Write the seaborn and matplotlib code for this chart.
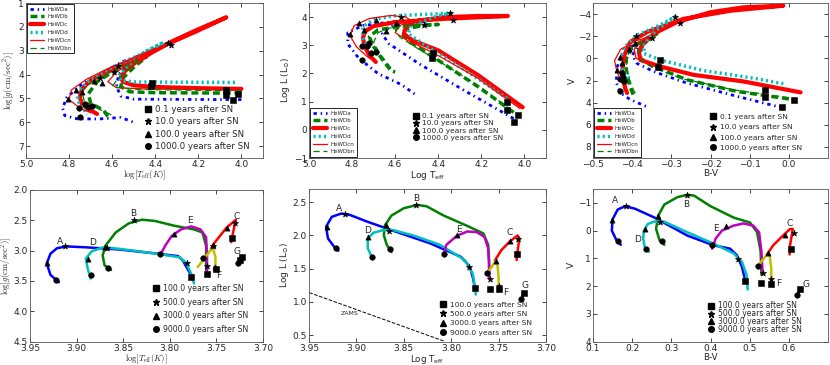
import pandas as pd
import seaborn as sns
import matplotlib.pyplot as plt
from matplotlib.lines import Line2D

sns.set_style("ticks", {"xtick.direction": "in", "ytick.direction": "in"})
plt.rcParams['font.family'] = ['DejaVu Sans']
plt.rcParams['xtick.top'] = True
plt.rcParams['ytick.right'] = True
plt.rcParams['xtick.labelsize'] = 6.5
plt.rcParams['ytick.labelsize'] = 6.5
plt.rcParams['xtick.major.size'] = 3
plt.rcParams['ytick.major.size'] = 3
plt.rcParams['axes.linewidth'] = 0.6

# ---------------- data: top row (HeWD models) ----------------
model_names = ['HeWDa', 'HeWDb', 'HeWDc', 'HeWDd', 'HeWDcn', 'HeWDbn']
top_years = ['0.1 years after SN', '10.0 years after SN',
             '100.0 years after SN', '1000.0 years after SN']

# log Teff vs log g
g_a = [(4.00, 5.05), (4.30, 5.04), (4.50, 5.03), (4.56, 4.90), (4.58, 4.50), (4.57, 4.00),
       (4.52, 3.55), (4.47, 3.20), (4.55, 3.45), (4.65, 3.95), (4.74, 4.40), (4.81, 4.95),
       (4.83, 5.40), (4.82, 5.72), (4.76, 5.86), (4.66, 5.86), (4.56, 5.80), (4.50, 6.00)]
g_b = [(4.00, 4.78), (4.20, 4.77), (4.40, 4.76), (4.52, 4.72), (4.56, 4.50), (4.55, 4.15),
       (4.50, 3.70), (4.44, 3.25), (4.50, 3.50), (4.60, 3.90), (4.67, 4.30), (4.71, 4.80),
       (4.70, 5.20), (4.64, 5.50), (4.62, 5.75)]
g_c = [(4.00, 4.60), (4.20, 4.57), (4.40, 4.52), (4.50, 4.45), (4.55, 4.30), (4.56, 4.10),
       (4.54, 3.85), (4.50, 3.55), (4.42, 3.10), (4.32, 2.60), (4.20, 2.10), (4.07, 1.60),
       (4.20, 2.15), (4.35, 2.75), (4.50, 3.35), (4.62, 3.85), (4.70, 4.25), (4.74, 4.60),
       (4.75, 4.95), (4.74, 5.25), (4.70, 5.50), (4.67, 5.65)]
g_d = [(4.03, 4.33), (4.30, 4.32), (4.50, 4.31), (4.56, 4.25), (4.57, 4.05), (4.53, 3.65),
       (4.45, 3.05), (4.36, 2.65), (4.48, 3.20), (4.60, 3.70), (4.70, 4.20), (4.76, 4.70),
       (4.76, 5.10), (4.73, 5.45), (4.72, 5.70)]
g_cn = [(4.00, 4.63), (4.20, 4.62), (4.45, 4.60), (4.58, 4.55), (4.62, 4.30), (4.58, 3.90),
        (4.50, 3.40), (4.40, 2.90), (4.50, 3.30), (4.62, 3.75), (4.72, 4.20), (4.79, 4.65),
        (4.80, 5.05), (4.75, 5.40), (4.70, 5.60)]
g_bn = [(4.00, 4.68), (4.20, 4.66), (4.50, 4.62), (4.60, 4.50), (4.58, 4.25), (4.53, 3.80),
        (4.47, 3.35), (4.58, 3.80), (4.68, 4.20), (4.74, 4.70), (4.73, 5.10), (4.66, 5.45),
        (4.60, 5.70)]
g_sq = [(4.415, 4.35), (4.42, 4.49), (4.07, 4.66), (4.07, 4.85), (4.016, 4.83), (4.04, 5.06)]
g_st = [(4.34, 2.66), (4.325, 2.76), (4.575, 3.63), (4.59, 3.89), (4.655, 4.15)]
g_tr = [(4.767, 4.63), (4.807, 5.03), (4.74, 4.72), (4.686, 4.28), (4.648, 4.34)]
g_ci = [(4.756, 5.39), (4.75, 5.76), (4.725, 5.25), (4.714, 5.34), (4.694, 5.30)]

# log Teff vs log L
l_a = [(4.05, 0.40), (4.28, 1.40), (4.49, 2.35), (4.63, 3.06), (4.66, 3.40), (4.63, 3.65),
       (4.55, 3.78), (4.45, 3.85), (4.60, 3.85), (4.75, 3.70), (4.82, 3.45), (4.82, 3.05),
       (4.77, 2.55), (4.68, 2.00), (4.57, 1.60), (4.50, 1.22)]
l_b = [(4.05, 0.62), (4.215, 1.53), (4.40, 2.47), (4.52, 3.06), (4.57, 3.41), (4.55, 3.59),
       (4.46, 3.71), (4.40, 3.74), (4.55, 3.70), (4.68, 3.55), (4.72, 3.30), (4.70, 2.95),
       (4.66, 2.50), (4.62, 2.10), (4.60, 2.05)]
l_c = [(4.008, 0.80), (4.215, 1.94), (4.40, 2.82), (4.52, 3.18), (4.56, 3.41), (4.55, 3.65),
       (4.49, 3.88), (4.37, 4.00), (4.215, 4.04), (4.077, 4.04), (4.37, 3.94), (4.60, 3.82),
       (4.70, 3.68), (4.74, 3.50), (4.75, 3.25), (4.74, 2.94), (4.72, 2.65), (4.69, 2.41)]
l_d = [(4.08, 1.12), (4.276, 2.12), (4.46, 3.00), (4.54, 3.41), (4.53, 3.65), (4.47, 3.85),
       (4.40, 4.05), (4.34, 4.14), (4.45, 4.10), (4.60, 4.05), (4.70, 3.92), (4.75, 3.65),
       (4.75, 3.25), (4.72, 2.90), (4.70, 2.62)]
l_cn = [(4.02, 0.75), (4.22, 1.85), (4.42, 2.72), (4.55, 3.20), (4.60, 3.45), (4.58, 3.70),
        (4.52, 3.85), (4.55, 4.00), (4.62, 4.06), (4.72, 3.95), (4.79, 3.70), (4.81, 3.35),
        (4.78, 2.95), (4.73, 2.60), (4.69, 2.40)]
l_bn = [(4.06, 0.70), (4.22, 1.60), (4.41, 2.50), (4.52, 3.00), (4.58, 3.30), (4.60, 3.55),
        (4.55, 3.68), (4.50, 3.72), (4.60, 3.68), (4.68, 3.45), (4.70, 3.10), (4.67, 2.70),
        (4.63, 2.30), (4.61, 2.10)]
l_sq = [(4.426, 2.71), (4.43, 2.55), (4.08, 1.00), (4.08, 0.71), (4.028, 0.53), (4.05, 0.29)]
l_st = [(4.33, 3.91), (4.345, 4.14), (4.575, 4.02), (4.468, 3.71)]
l_tr = [(4.77, 3.80), (4.808, 3.41), (4.744, 3.53), (4.687, 3.91), (4.595, 3.80), (4.644, 3.49)]
l_ci = [(4.755, 2.98), (4.72, 3.08), (4.73, 2.96), (4.713, 2.74), (4.755, 2.49), (4.69, 2.76)]

# B-V vs V
v_a = [(-0.016, 4.46), (-0.133, 3.42), (-0.26, 2.23), (-0.345, 1.19), (-0.388, 0.45),
       (-0.40, -0.30), (-0.385, -1.0), (-0.36, -1.7), (-0.38, -1.5), (-0.41, -0.9),
       (-0.43, 0.0), (-0.44, 0.9), (-0.44, 1.64), (-0.44, 2.23), (-0.43, 3.12),
       (-0.405, 3.72), (-0.362, 4.37)]
v_b = [(0.0, 3.66), (-0.133, 2.98), (-0.26, 1.93), (-0.345, 0.74), (-0.379, 0.0),
       (-0.378, -0.9), (-0.36, -1.7), (-0.337, -2.23), (-0.36, -1.9), (-0.40, -1.0),
       (-0.415, 0.0), (-0.415, 1.0), (-0.41, 2.0), (-0.405, 2.6), (-0.396, 3.42)]
v_c = [(0.03, 3.07), (-0.116, 2.08), (-0.243, 1.49), (-0.328, 0.74), (-0.379, 0.15),
       (-0.383, -0.6), (-0.375, -1.19), (-0.345, -2.23), (-0.286, -3.27), (-0.2, -4.17),
       (-0.116, -4.61), (-0.014, -4.76), (-0.15, -4.3), (-0.269, -3.57), (-0.362, -2.38),
       (-0.405, -1.49), (-0.42, -0.3), (-0.426, 1.19), (-0.418, 2.68), (-0.413, 3.12)]
v_d = [(-0.014, 2.29), (-0.09, 1.79), (-0.218, 1.10), (-0.328, 0.15), (-0.37, -0.45),
       (-0.37, -1.3), (-0.34, -2.5), (-0.29, -3.78), (-0.33, -3.0), (-0.388, -2.08),
       (-0.42, -1.0), (-0.43, 0.0), (-0.425, 1.0), (-0.405, 1.93)]
v_cn = [(0.02, 3.0), (-0.12, 2.15), (-0.25, 1.45), (-0.34, 0.70), (-0.39, 0.0),
        (-0.395, -0.8), (-0.38, -1.5), (-0.36, -1.9), (-0.39, -1.6), (-0.43, -0.8),
        (-0.445, 0.2), (-0.44, 1.05), (-0.43, 2.0), (-0.415, 2.8)]
v_bn = [(0.0, 3.55), (-0.14, 2.85), (-0.27, 1.85), (-0.35, 0.8), (-0.38, 0.1),
        (-0.385, -0.8), (-0.37, -1.5), (-0.39, -1.2), (-0.41, -0.4), (-0.415, 0.6),
        (-0.41, 1.6), (-0.40, 2.6), (-0.39, 3.3)]
v_sq = [(-0.33, 0.15), (-0.333, 0.74), (-0.06, 2.83), (-0.06, 3.51), (0.014, 3.78), (-0.018, 4.40)]
v_st = [(-0.29, -3.72), (-0.279, -3.21), (-0.39, -2.02), (-0.35, -1.85)]
v_tr = [(-0.44, 1.04), (-0.43, -0.15), (-0.425, 0.42), (-0.409, -0.89), (-0.393, -1.35)]
v_ci = [(-0.426, 1.28), (-0.423, 1.70), (-0.43, 1.85), (-0.421, 2.08), (-0.43, 2.98)]

# ---------------- data: bottom row (tracks A-G) ----------------
bot_years = ['100.0 years after SN', '500.0 years after SN',
             '3000.0 years after SN', '9000.0 years after SN']
track_names = ['A', 'B', 'C', 'D', 'E', 'F', 'G']

bg_A = [(3.919, 3.52), (3.928, 3.40), (3.932, 3.21), (3.928, 3.05), (3.921, 2.96), (3.911, 2.93),
        (3.89, 2.945), (3.855, 2.98), (3.819, 3.04), (3.791, 3.09), (3.786, 3.16), (3.781, 3.30),
        (3.776, 3.43)]
bg_D = [(3.885, 3.46), (3.888, 3.30), (3.89, 3.13), (3.884, 3.015), (3.872, 2.945), (3.854, 2.97),
        (3.819, 3.04), (3.789, 3.11), (3.782, 3.21), (3.777, 3.38), (3.774, 3.54)]
bg_B = [(3.863, 3.32), (3.87, 3.24), (3.872, 3.08), (3.869, 2.92), (3.858, 2.70), (3.844, 2.55),
        (3.83, 2.49), (3.816, 2.51), (3.795, 2.59), (3.774, 2.65), (3.765, 2.70), (3.761, 2.92),
        (3.761, 3.13), (3.761, 3.32)]
bg_E = [(3.81, 3.07), (3.805, 2.92), (3.798, 2.76), (3.788, 2.65), (3.777, 2.60), (3.767, 2.65),
        (3.761, 2.78), (3.76, 3.08), (3.76, 3.40)]
bg_C = [(3.756, 2.98), (3.753, 2.89), (3.739, 2.62), (3.729, 2.49), (3.731, 2.62), (3.734, 2.86)]
bg_F = [(3.77, 3.27), (3.763, 3.13), (3.754, 2.95), (3.751, 3.10), (3.751, 3.27)]
bg_G = [(3.727, 3.22), (3.724, 3.15), (3.722, 3.11)]
bg_sq = [(3.777, 3.43), (3.76, 3.39), (3.75, 3.31), (3.733, 2.79), (3.723, 3.11), (3.725, 3.15)]
bg_st = [(3.912, 2.93), (3.867, 2.96), (3.838, 2.50), (3.73, 2.54), (3.782, 3.21), (3.76, 3.25),
         (3.754, 2.92)]
bg_tr = [(3.932, 3.20), (3.888, 3.13), (3.87, 2.945), (3.795, 2.72), (3.739, 2.62), (3.754, 2.90),
         (3.751, 3.27)]
bg_ci = [(3.922, 3.48), (3.885, 3.40), (3.866, 3.29), (3.81, 3.06), (3.764, 3.12), (3.727, 3.21)]
bg_lab = [(3.918, 2.85), (3.839, 2.39), (3.728, 2.44), (3.883, 2.87), (3.778, 2.50),
          (3.748, 3.41), (3.728, 3.01)]

bl_A = [(3.919, 1.77), (3.923, 1.82), (3.93, 1.955), (3.932, 2.13), (3.926, 2.28), (3.916, 2.33),
        (3.907, 2.31), (3.889, 2.21), (3.858, 2.055), (3.822, 1.88), (3.79, 1.68), (3.785, 1.61),
        (3.78, 1.51), (3.777, 1.36), (3.775, 1.21)]
bl_D = [(3.883, 1.65), (3.888, 1.81), (3.888, 1.955), (3.882, 2.04), (3.872, 2.08), (3.861, 2.08),
        (3.84, 2.00), (3.812, 1.86), (3.789, 1.66), (3.782, 1.56), (3.777, 1.41), (3.774, 1.11)]
bl_B = [(3.863, 1.75), (3.868, 1.86), (3.871, 2.00), (3.87, 2.15), (3.863, 2.30), (3.85, 2.41),
        (3.836, 2.46), (3.826, 2.44), (3.808, 2.30), (3.784, 2.15), (3.766, 2.03), (3.761, 1.86),
        (3.76, 1.61), (3.76, 1.36)]
bl_E = [(3.808, 1.71), (3.805, 1.86), (3.794, 1.995), (3.783, 2.06), (3.773, 2.05), (3.765, 1.98),
        (3.761, 1.81), (3.76, 1.56), (3.76, 1.36)]
bl_C = [(3.754, 1.62), (3.747, 1.78), (3.738, 1.91), (3.73, 2.00), (3.728, 1.955), (3.73, 1.76),
        (3.731, 1.63)]
bl_F = [(3.762, 1.44), (3.757, 1.53), (3.753, 1.62), (3.751, 1.53), (3.75, 1.36), (3.75, 1.21)]
bl_G = [(3.726, 1.05), (3.725, 1.07), (3.723, 1.14)]
bl_sq = [(3.775, 1.21), (3.759, 1.20), (3.75, 1.19), (3.731, 1.72), (3.723, 1.14)]
bl_st = [(3.912, 2.32), (3.866, 2.06), (3.837, 2.46), (3.729, 1.94), (3.781, 1.52), (3.759, 1.34),
         (3.75, 1.24)]
bl_tr = [(3.931, 2.13), (3.888, 1.97), (3.869, 2.15), (3.794, 2.00), (3.738, 1.91), (3.753, 1.62)]
bl_ci = [(3.921, 1.81), (3.884, 1.67), (3.865, 1.79), (3.808, 1.72), (3.762, 1.43), (3.726, 1.05)]
bl_lab = [(3.918, 2.40), (3.837, 2.55), (3.738, 2.05), (3.888, 2.07), (3.792, 2.09),
          (3.743, 1.14), (3.722, 1.24)]
zams_x = [3.95, 3.808]
zams_y = [1.14, 0.41]

bv_A = [(0.171, 0.51), (0.16, 0.35), (0.148, 0.0), (0.15, -0.41), (0.163, -0.76), (0.182, -0.88),
        (0.207, -0.79), (0.257, -0.47), (0.341, 0.18), (0.408, 0.53), (0.45, 0.65), (0.467, 0.88),
        (0.48, 1.29), (0.488, 1.76)]
bv_D = [(0.243, 0.76), (0.232, 0.59), (0.228, 0.29), (0.23, 0.0), (0.24, -0.24), (0.257, -0.33),
        (0.282, -0.32), (0.341, 0.06), (0.408, 0.47), (0.459, 0.82), (0.48, 1.12), (0.492, 1.59),
        (0.495, 2.12)]
bv_B = [(0.282, 0.51), (0.27, 0.35), (0.261, -0.06), (0.266, -0.53), (0.282, -0.94), (0.316, -1.21),
        (0.341, -1.29), (0.358, -1.26), (0.40, -0.88), (0.459, -0.47), (0.501, -0.29), (0.519, 0.06),
        (0.528, 0.76), (0.53, 1.59)]
bv_E = [(0.404, 0.65), (0.413, 0.29), (0.429, 0.0), (0.459, -0.18), (0.484, -0.26), (0.509, -0.18),
        (0.524, 0.06), (0.53, 0.76), (0.533, 1.53)]
bv_C = [(0.543, 0.88), (0.56, 0.53), (0.585, 0.18), (0.603, -0.06), (0.61, -0.06), (0.608, 0.12),
        (0.603, 0.53), (0.602, 0.86)]
bv_F = [(0.52, 1.29), (0.543, 0.88), (0.551, 0.88), (0.555, 1.35), (0.555, 1.82)]
bv_G = [(0.621, 2.32), (0.626, 2.20), (0.629, 2.08)]
bv_sq = [(0.488, 1.82), (0.53, 1.88), (0.555, 1.92), (0.606, 0.65), (0.629, 2.09)]
bv_st = [(0.184, -0.88), (0.272, -0.32), (0.339, -1.29), (0.614, 0.08), (0.471, 1.04),
         (0.533, 1.53), (0.555, 1.76)]
bv_tr = [(0.148, -0.39), (0.232, -0.06), (0.266, -0.51), (0.44, -0.18), (0.589, 0.15), (0.547, 0.82)]
bv_ci = [(0.165, 0.39), (0.236, 0.67), (0.276, 0.38), (0.404, 0.53), (0.522, 1.29), (0.621, 2.32)]
bv_lab = [(0.156, -1.09), (0.337, -0.94), (0.603, -0.24), (0.213, 0.33), (0.415, -0.08),
          (0.575, 1.92), (0.645, 1.94)]

# ---------------- styles ----------------
cls = {'b': (0, 0, 1), 'g': (0, 0.5, 0), 'r': (1, 0, 0), 'c': (0, 0.75, 0.75)}
model_styles = [('b', (0, (1.2, 1.4, 0.5, 1.4)), 2.0), ('g', (0, (2.0, 1.1)), 2.5),
                ('r', '-', 3.0), ('c', (0, (0.6, 0.9)), 2.5), ('r', '-', 0.9),
                ('g', (0, (5, 3)), 0.9)]
track_colors = [(0, 0, 1), (0, 0.5, 0), (1, 0, 0), (0, 0.75, 0.75),
                (0.75, 0, 0.75), (0.75, 0.75, 0), (0, 0, 0)]
marker_kinds = [('s', 14), ('*', 22), ('^', 14), ('o', 16)]


def draw_line(ax, pts, color, ls='-', lw=2.0):
    df = pd.DataFrame(pts, columns=['x', 'y'])
    sns.lineplot(data=df, x='x', y='y', sort=False, estimator=None, color=color,
                 linestyle=ls, lw=lw, ax=ax, legend=False)


def draw_marks(ax, pts, marker, size):
    df = pd.DataFrame(pts, columns=['x', 'y'])
    sns.scatterplot(data=df, x='x', y='y', marker=marker, s=size, color='k',
                    edgecolor='k', linewidth=0.4, ax=ax, legend=False, zorder=5)


def year_legend(ax, labels, anchor, fs, spacing):
    handles = [Line2D([], [], ls='none', marker=m, color='k', markersize=4 if m != '*' else 5)
               for m, _ in marker_kinds]
    ax.legend(handles, labels, loc='lower right', bbox_to_anchor=anchor, frameon=False,
              fontsize=fs, handlelength=0.8, handletextpad=0.5, labelspacing=spacing,
              borderaxespad=0.0, borderpad=0.0)


def model_legend(ax, loc):
    handles = [Line2D([], [], color=cls[c], ls=s, lw=w) for c, s, w in model_styles]
    leg = ax.legend(handles, model_names, loc=loc, fontsize=4.0, handlelength=2.6,
                    frameon=True, fancybox=False, edgecolor='k', framealpha=1,
                    labelspacing=0.5, borderpad=0.4, borderaxespad=0.25, handletextpad=0.6)
    leg.get_frame().set_linewidth(0.6)
    ax.add_artist(leg)


fig = plt.figure(figsize=(8.3, 3.65), dpi=100)
ax_tl = fig.add_axes([0.0313, 0.567, 0.2855, 0.4247])
ax_tm = fig.add_axes([0.3723, 0.567, 0.2855, 0.4247])
ax_tr = fig.add_axes([0.7145, 0.567, 0.2831, 0.4247])
ax_bl = fig.add_axes([0.0361, 0.064, 0.2807, 0.4155])
ax_bm = fig.add_axes([0.3723, 0.064, 0.2855, 0.4182])
ax_br = fig.add_axes([0.7145, 0.064, 0.2831, 0.4182])

# top row
top_sets = [(ax_tl, [g_a, g_b, g_c, g_d, g_cn, g_bn], [g_sq, g_st, g_tr, g_ci]),
            (ax_tm, [l_a, l_b, l_c, l_d, l_cn, l_bn], [l_sq, l_st, l_tr, l_ci]),
            (ax_tr, [v_a, v_b, v_c, v_d, v_cn, v_bn], [v_sq, v_st, v_tr, v_ci])]
for ax, tracks, marks in top_sets:
    for pts, (c, s, w) in zip(tracks, model_styles):
        draw_line(ax, pts, cls[c], s, w)
    for pts, (m, sz) in zip(marks, marker_kinds):
        draw_marks(ax, pts, m, sz)

logg_label = r'$\log[g({\rm cm/sec}^2)]$'
logt_label = r'$\log[T_{\rm eff}(K)]$'

ax_tl.set_xlim(5.0, 3.9)
ax_tl.set_ylim(7.5, 1.0)
ax_tl.set_xticks([5.0, 4.8, 4.6, 4.4, 4.2, 4.0])
ax_tl.set_yticks([1, 2, 3, 4, 5, 6, 7])
ax_tl.set_xlabel(logt_label, fontsize=6.3, math_fontfamily='cm', labelpad=0)
ax_tl.set_ylabel(logg_label, fontsize=6.3, math_fontfamily='cm', labelpad=1)
model_legend(ax_tl, 'upper left')
year_legend(ax_tl, top_years, (0.945, 0.045), 6.2, 0.4)

ax_tm.set_xlim(5.0, 3.9)
ax_tm.set_ylim(-1.0, 4.5)
ax_tm.set_xticks([5.0, 4.8, 4.6, 4.4, 4.2, 4.0])
ax_tm.set_yticks([-1, 0, 1, 2, 3, 4])
ax_tm.set_xlabel(r'Log T$_{\rm eff}$', fontsize=6.5, labelpad=0)
ax_tm.set_ylabel(r'Log L (L$_{\odot}$)', fontsize=6.5, labelpad=1)
model_legend(ax_tm, 'lower left')
year_legend(ax_tm, top_years, (0.82, 0.11), 5.3, 0.15)

ax_tr.set_xlim(-0.5, 0.1)
ax_tr.set_ylim(9, -5)
ax_tr.set_xticks([-0.5, -0.4, -0.3, -0.2, -0.1, 0.0])
ax_tr.set_yticks([-4, -2, 0, 2, 4, 6, 8])
ax_tr.set_xlabel('B-V', fontsize=6.5, labelpad=0)
ax_tr.set_ylabel('V', fontsize=6.5, labelpad=1)
model_legend(ax_tr, 'lower left')
year_legend(ax_tr, top_years, (0.89, 0.045), 5.4, 0.55)

# bottom row
bot_sets = [(ax_bl, [bg_A, bg_B, bg_C, bg_D, bg_E, bg_F, bg_G], [bg_sq, bg_st, bg_tr, bg_ci], bg_lab),
            (ax_bm, [bl_A, bl_B, bl_C, bl_D, bl_E, bl_F, bl_G], [bl_sq, bl_st, bl_tr, bl_ci], bl_lab),
            (ax_br, [bv_A, bv_B, bv_C, bv_D, bv_E, bv_F, bv_G], [bv_sq, bv_st, bv_tr, bv_ci], bv_lab)]
for ax, tracks, marks, labs in bot_sets:
    for pts, c in zip(tracks, track_colors):
        draw_line(ax, pts, c, '-', 1.8)
    for pts, (m, sz) in zip(marks, marker_kinds):
        draw_marks(ax, pts, m, sz)
    for name, (x, y) in zip(track_names, labs):
        ax.text(x, y, name, fontsize=6.5, ha='center', va='center')

year_legend(ax_bl, bot_years, (0.937, 0.05), 5.6, 0.6)
year_legend(ax_bm, bot_years, (0.94, 0.04), 5.4, 0.4)
year_legend(ax_br, bot_years, (0.89, 0.05), 5.5, -0.15)

sns.lineplot(x=zams_x, y=zams_y, color='k', linestyle='--', lw=0.7, ax=ax_bm, legend=False)
ax_bm.text(3.907, 0.82, 'ZAMS', fontsize=4.5, ha='center', va='center')

ax_bl.set_xlim(3.95, 3.70)
ax_bl.set_ylim(4.5, 2.0)
ax_bl.set_xticks([3.95, 3.90, 3.85, 3.80, 3.75, 3.70])
ax_bl.set_yticks([2.0, 2.5, 3.0, 3.5, 4.0, 4.5])
ax_bl.set_xlabel(logt_label, fontsize=6.2, math_fontfamily='cm', labelpad=0)
ax_bl.set_ylabel(logg_label, fontsize=6.2, math_fontfamily='cm', labelpad=0)

ax_bm.set_xlim(3.95, 3.70)
ax_bm.set_ylim(0.4, 2.7)
ax_bm.set_xticks([3.95, 3.90, 3.85, 3.80, 3.75, 3.70])
ax_bm.set_yticks([0.5, 1.0, 1.5, 2.0, 2.5])
ax_bm.set_xlabel(r'Log T$_{\rm eff}$', fontsize=6.3, labelpad=0)
ax_bm.set_ylabel(r'Log L (L$_{\odot}$)', fontsize=6.5, labelpad=1)

ax_br.set_xlim(0.1, 0.7)
ax_br.set_ylim(4, -1.5)
ax_br.set_xticks([0.1, 0.2, 0.3, 0.4, 0.5, 0.6])
ax_br.set_yticks([-1, 0, 1, 2, 3, 4])
ax_br.set_xlabel('B-V', fontsize=6.3, labelpad=0)
ax_br.set_ylabel('V', fontsize=6.5, labelpad=1)

for ax in [ax_tl, ax_tm, ax_tr, ax_bl, ax_bm, ax_br]:
    ax.tick_params(direction='in', top=True, right=True, pad=1.5, width=0.6)
    for sp in ax.spines.values():
        sp.set_color('#555555')

fig.savefig('out.png', dpi=100)
